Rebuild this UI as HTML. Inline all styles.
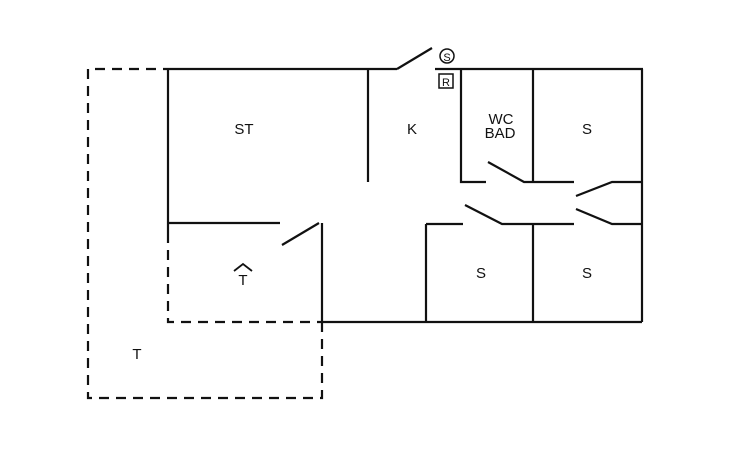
<!DOCTYPE html>
<html><head><style>body{margin:0;background:#fff}svg{display:block}</style></head><body>
<svg width="730" height="450" viewBox="0 0 730 450" xmlns="http://www.w3.org/2000/svg">
<g stroke="#111" stroke-width="2.2" fill="none">
<path d="M168 69H397M397 69L432 48M435 69H643M168 69V233M168 223H280M282 245L319 223M322 223V322M368 69V182M461 69V182H486M488 162L524 182H574M533 69V182M642 69V322M576 196L612 182H642M576 209L612 224H642M426 224H463M465 205L502 224H574M426 224V322M533 224V322M322 322H642"/>
<g stroke-dasharray="10,7"><path d="M168 233V322H322M322 322V398H88V69H168"/></g>
<circle cx="447" cy="56" r="7" stroke-width="1.5"/>
<rect x="439" y="74" width="14" height="14" stroke-width="1.5"/>
<path d="M234 271L243 264L252 271" stroke-width="1.8"/>
</g>
<g font-family="Liberation Sans, sans-serif" font-size="15" fill="#111" text-anchor="middle">
<text x="447" y="61" font-size="11">S</text>
<text x="446" y="86" font-size="11">R</text>
<text x="244" y="134">ST</text>
<text x="412" y="134">K</text>
<text x="501" y="124">WC</text>
<text x="500" y="138">BAD</text>
<text x="587" y="134">S</text>
<text x="481" y="278">S</text>
<text x="587" y="278">S</text>
<text x="243" y="285">T</text>
<text x="137" y="359">T</text>
</g>
</svg>
</body></html>
